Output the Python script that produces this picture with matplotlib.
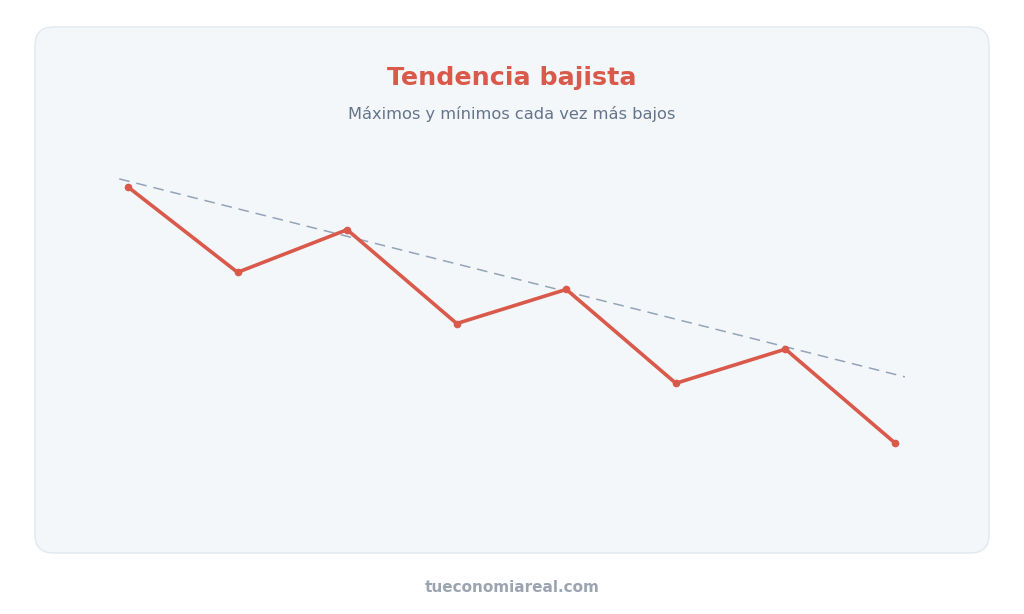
import matplotlib
matplotlib.use("Agg")
import matplotlib.pyplot as plt
from matplotlib.patches import FancyBboxPatch

# Data
x_idx = [0, 1, 2, 3, 4, 5, 6, 7]
prices = [100, 80, 90, 68, 76, 54, 62, 40]
trend_x = [-0.08, 7.09]
trend_y = [101.9, 55.5]

title = "Tendencia bajista"
subtitle = "Máximos y mínimos cada vez más bajos"
footer = "tueconomiareal.com"

W, H = 1024, 614
fig = plt.figure(figsize=(W / 100, H / 100), dpi=100)
fig.patch.set_facecolor("white")

# Panel background
panel = FancyBboxPatch((35 / W, (H - 553) / H), (989 - 35) / W, (553 - 27) / H,
                       boxstyle="round,pad=0,rounding_size=0.018",
                       transform=fig.transFigure, facecolor="#f4f7fa",
                       edgecolor="#e2e8f0", linewidth=1.0, mutation_aspect=W / H,
                       zorder=-5)
fig.patches.append(panel)

ax = fig.add_axes([0, 0, 1, 1])
ax.set_zorder(2)
ax.set_facecolor("none")
step = (895 - 128) / 7
ax.set_xlim(-128 / step, (W - 128) / step)
k = 60 / 256
ax.set_ylim(100 - (H - 187) * k, 100 + 187 * k)
ax.axis("off")

ax.plot(trend_x, trend_y, color="#94a3b8", linewidth=1.1, dashes=(7, 4.5))
ax.plot(x_idx, prices, color="#d9594b", linewidth=2.6, solid_capstyle="round",
        solid_joinstyle="round", marker="o", markersize=4.5)

fig.text(0.5, 1 - 78 / H, title, ha="center", va="center", fontsize=18.3,
         fontweight="bold", color="#d9594b", family="DejaVu Sans")
fig.text(0.5, 1 - 114 / H, subtitle, ha="center", va="center", fontsize=11.7,
         color="#64748b", family="DejaVu Sans")
fig.text(0.5, 1 - 587 / H, footer, ha="center", va="center", fontsize=11,
         fontweight="bold", color="#9aa5b1", family="DejaVu Sans")

fig.savefig("out.png", dpi=100, facecolor="white")
